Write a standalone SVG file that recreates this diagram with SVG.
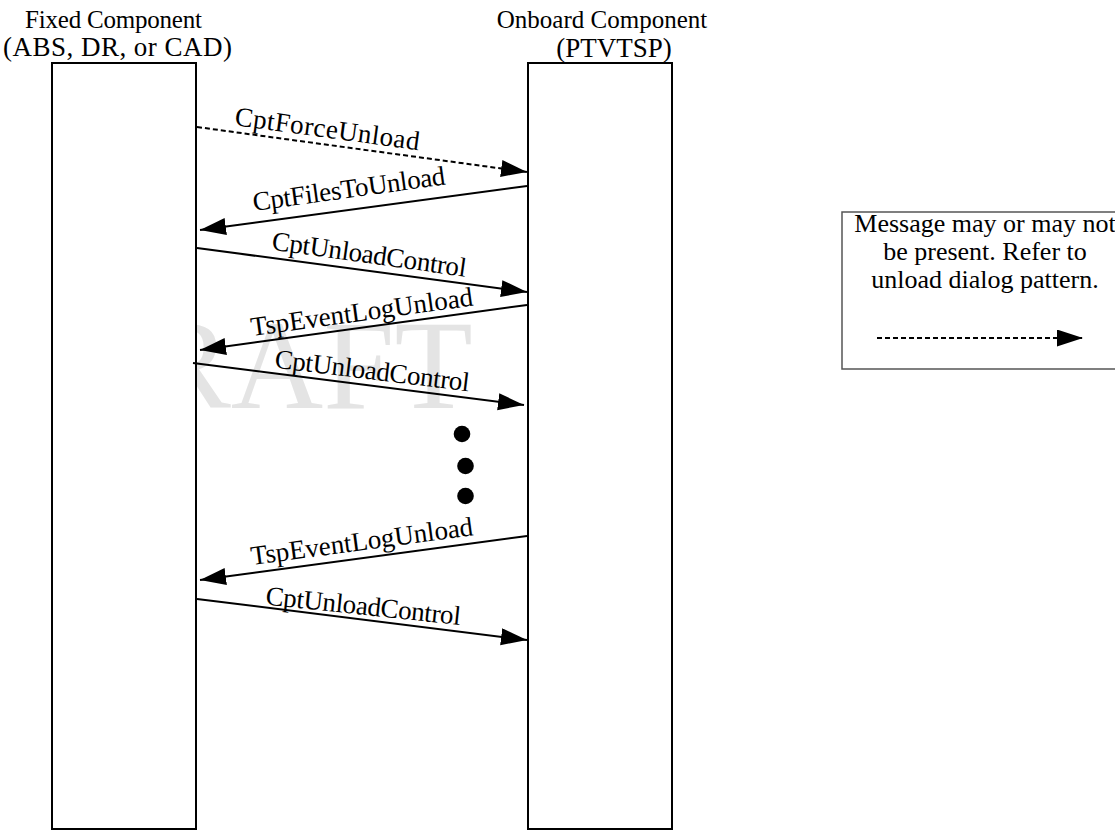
<svg xmlns="http://www.w3.org/2000/svg" width="1115" height="830" viewBox="0 0 1115 830">
  <style>
    .t { font-family: "Liberation Serif", "Times New Roman", serif; font-size: 26px; fill: #000; }
    .lbl { font-family: "Liberation Serif", "Times New Roman", serif; font-size: 27px; fill: #000; }
    .mid { text-anchor: middle; }
    .life { fill: #fff; stroke: #000; stroke-width: 2; }
    .msg { stroke: #000; stroke-width: 2; fill: none; marker-end: url(#head); }
    .opt { stroke-dasharray: 5 3; }
    .wm { font-family: "Liberation Serif", "Times New Roman", serif; font-size: 128px; fill: #e4e4e4; }
  </style>
  <defs>
    <marker id="head" markerUnits="userSpaceOnUse" markerWidth="27" markerHeight="18" refX="26" refY="8.5" orient="auto">
      <path d="M0,0 L26,8.5 L0,17 Z" fill="#000"/>
    </marker>
  </defs>
  <rect width="1115" height="830" fill="#fff"/>

  <!-- watermark, drawn beneath the lifelines -->
  <text class="wm" x="53" y="408">DRAFT</text>

  <!-- lifelines -->
  <g id="fixed">
    <rect class="life" x="52" y="63" width="144" height="766"/>
    <text class="t mid" x="113.5" y="28" style="font-size:25px" textLength="177">Fixed Component</text>
    <text class="t mid" x="117.5" y="56" style="font-size:27px" textLength="229">(ABS, DR, or CAD)</text>
  </g>
  <g id="onboard">
    <rect class="life" x="528" y="63" width="144" height="766"/>
    <text class="t mid" x="602" y="28" style="font-size:25px">Onboard Component</text>
    <text class="t mid" x="614" y="57" style="font-size:27px">(PTVTSP)</text>
  </g>

  <!-- messages -->
  <g id="connectors">
    <line class="msg opt" x1="197" y1="127" x2="527" y2="172"/>
    <line class="msg" x1="527" y1="186" x2="200" y2="230"/>
    <line class="msg" x1="197" y1="248" x2="527" y2="292"/>
    <line class="msg" x1="527" y1="305" x2="200" y2="350"/>
    <line class="msg" x1="193" y1="363" x2="524" y2="405"/>
    <line class="msg" x1="527" y1="536" x2="200" y2="580"/>
    <line class="msg" x1="197" y1="599" x2="527" y2="640"/>
  </g>

  <g id="labels">
    <text class="lbl" transform="translate(234,125) rotate(7.8)" textLength="186">CptForceUnload</text>
    <text class="lbl" transform="translate(254,211) rotate(-7.9)" textLength="194">CptFilesToUnload</text>
    <text class="lbl" transform="translate(271,249.5) rotate(8)" textLength="196">CptUnloadControl</text>
    <text class="lbl" transform="translate(252,336) rotate(-7.84)" textLength="224">TspEventLogUnload</text>
    <text class="lbl" transform="translate(274,367.5) rotate(7)" textLength="196">CptUnloadControl</text>
    <text class="lbl" transform="translate(252,565) rotate(-7.66)" textLength="224">TspEventLogUnload</text>
    <text class="lbl" transform="translate(265,604.5) rotate(6)" textLength="196">CptUnloadControl</text>
  </g>

  <!-- continuation dots -->
  <g id="ellipsis" fill="#000">
    <circle cx="462" cy="434" r="8.3"/>
    <circle cx="465.5" cy="466" r="8.3"/>
    <circle cx="465.5" cy="496" r="8.3"/>
  </g>

  <!-- legend -->
  <g id="legend">
    <rect x="842" y="212" width="290" height="157" fill="#fff" stroke="#555" stroke-width="1.5"/>
    <text class="t mid" x="985" y="232">Message may or may not</text>
    <text class="t mid" x="985" y="260">be present. Refer to</text>
    <text class="t mid" x="985" y="288">unload dialog pattern.</text>
    <line class="msg opt" x1="877" y1="338" x2="1083" y2="338"/>
  </g>
</svg>
